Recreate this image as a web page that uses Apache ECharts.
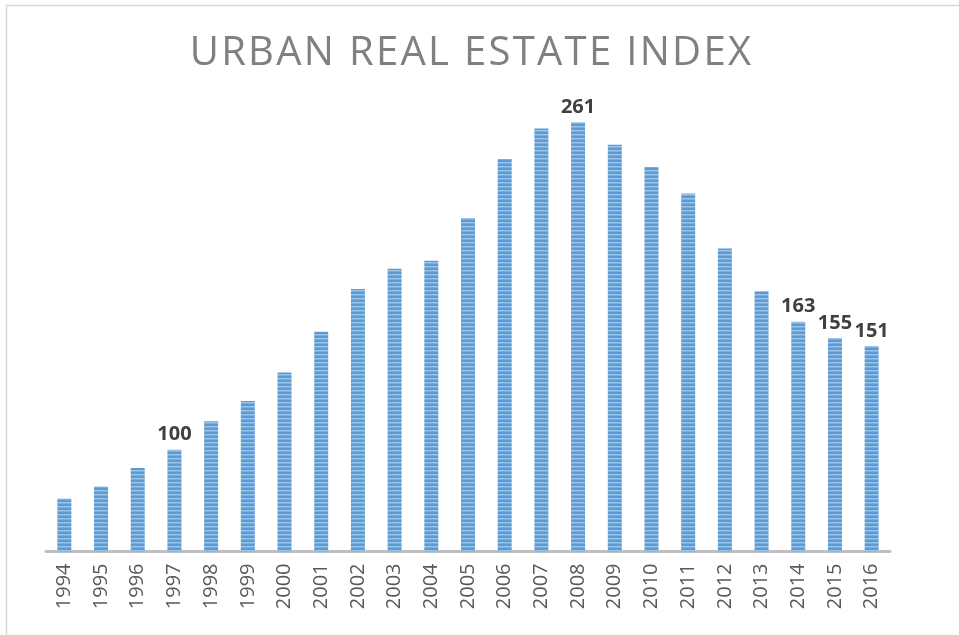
<!DOCTYPE html>
<html>
<head>
<meta charset="utf-8">
<script src="https://cdn.jsdelivr.net/npm/echarts@6/dist/echarts.min.js"></script>
<style>
  html, body { margin: 0; padding: 0; background: #fff; }
  #wrap { position: relative; width: 959px; height: 635px; }
  #chart { width: 959px; height: 635px; }
  /* title kept as html text so it can get the wide letter spacing of the original */
  #title {
    position: absolute; left: 0; top: 30px; width: 959px; box-sizing: border-box;
    padding-right: 16px; text-align: center;
    font-family: 'Open Sans'; font-size: 40px; line-height: 40px;
    letter-spacing: 2.3px; color: #808080; pointer-events: none;
  }
</style>
</head>
<body>
<div id="wrap">
  <div id="chart"></div>
  <div id="title">URBAN REAL ESTATE INDEX</div>
</div>
<script>
const years = ['1994', '1995', '1996', '1997', '1998', '1999', '2000', '2001', '2002', '2003', '2004',
  '2005', '2006', '2007', '2008', '2009', '2010', '2011', '2012', '2013', '2014', '2015', '2016'];
const indexValues = [76, 82, 91, 100, 114, 124, 138, 158, 179, 189, 193,
  214, 243, 258, 261, 250, 239, 226, 199, 178, 163, 155, 151];
const labelledYears = ['1997', '2008', '2014', '2015', '2016'];

// striped fill like the Excel pattern
function stripes() {
  const c = document.createElement('canvas');
  c.width = 4; c.height = 4;
  const ctx = c.getContext('2d');
  const rows = ['#5b9bd5', '#5b9bd5', '#9cc3e8', '#7aaee0'];
  rows.forEach((col, i) => { ctx.fillStyle = col; ctx.fillRect(0, i, 4, 1); });
  return c;
}

const chart = echarts.init(document.getElementById('chart'));
chart.setOption({
  animation: false,
  graphic: [{
    type: 'rect',
    shape: { x: 6.5, y: 5.5, width: 1000, height: 700 },
    style: { fill: 'none', stroke: '#d9d9d9', lineWidth: 1.5 },
    silent: true
  }],
  grid: { left: 46, right: 69, top: 104, bottom: 83.5 },
  xAxis: {
    type: 'category',
    data: years,
    axisLine: { lineStyle: { color: '#bfbfbf', width: 3 } },
    axisTick: { show: false },
    axisLabel: {
      rotate: 90,
      margin: 12,
      interval: 0,
      color: '#595959',
      fontFamily: 'Open Sans',
      fontSize: 20
    }
  },
  yAxis: {
    type: 'value',
    min: 50,
    max: 270,
    show: false,
    splitLine: { show: false }
  },
  series: [{
    type: 'bar',
    barWidth: 14,
    itemStyle: { color: { image: stripes(), repeat: 'repeat' } },
    label: {
      position: 'top',
      distance: 5,
      color: '#404040',
      fontFamily: 'Open Sans',
      fontWeight: 'bold',
      fontSize: 20
    },
    data: indexValues.map((v, i) => ({
      value: v,
      label: { show: labelledYears.includes(years[i]) }
    }))
  }]
});
</script>
</body>
</html>
